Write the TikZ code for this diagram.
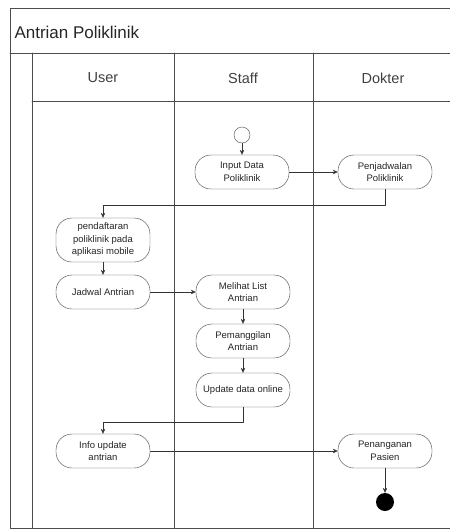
\documentclass[tikz,border=0pt]{standalone}
\usepackage{fontspec}
\setmainfont{Liberation Sans}
\usetikzlibrary{arrows.meta}

\begin{document}
\begin{tikzpicture}[x=1pt,y=-1pt,>={Stealth[length=5pt,width=4.5pt]}, line join=round, line cap=round,
        act/.style={draw=black!75,fill=white,text=black!85,rounded corners=16pt,minimum width=94pt,minimum height=34pt,align=center,inner sep=1pt,font=\fontsize{9.5}{12.5}\selectfont},
        flow/.style={->,draw=black!80},
        frame/.style={draw=black!70,line width=0.8pt},
        lane/.style={text=black!75,font=\fontsize{14.5}{18}\selectfont}]
        \def\xl{10} \def\xr{450} \def\yt{8} \def\yb{528}
        \useasboundingbox (0,0) rectangle (450,531);
        % swimlanes
        \draw[frame] (\xr,\yt) -- (\xl,\yt) -- (\xl,\yb) -- (\xr,\yb);
        \draw[frame] (\xl,53) -- (\xr,53);
        \draw[frame] (32,53) -- (32,\yb);
        \draw[frame] (32,101) -- (\xr,101);
        \draw[frame] (174,53) -- (174,\yb);
        \draw[frame] (313,53) -- (313,\yb);
        \node[anchor=west,text=black!85,font=\fontsize{17}{20}\selectfont] (title) at (11,32) {Antrian Poliklinik};
        \node[lane] (user) at (103,78) {User};
        \node[lane] (staff) at (243,78) {Staff};
        \node[lane] (dokter) at (383,78) {Dokter};
        % activities
        \node[circle,draw=black!70,fill=white,minimum size=16pt,inner sep=0pt] (start) at (242,135) {};
        \node[act] (inp) at (242,172) {Input Data\\Poliklinik};
        \node[act] (jdw) at (385,172) {Penjadwalan\\Poliklinik};
        \node[act,minimum height=44pt] (daf) at (103,240) {pendaftaran\\poliklinik pada\\aplikasi mobile};
        \node[act] (antri) at (103,292) {Jadwal Antrian};
        \node[act] (list) at (243,292) {Melihat List\\Antrian};
        \node[act] (pgl) at (243,341) {Pemanggilan\\Antrian};
        \node[act] (upd) at (243,390) {Update data online};
        \node[act] (info) at (103,451) {Info update\\antrian};
        \node[act] (pasien) at (385,451) {Penanganan\\Pasien};
        \node[circle,fill=black,minimum size=18pt,inner sep=0pt] (end) at (385,502) {};
        % flows
        \draw[flow] (start) -- (inp);
        \draw[flow] (inp) -- (jdw);
        \draw[flow] (jdw.south) -- ++(0,16) -| (daf.north);
        \draw[flow] (daf) -- (antri);
        \draw[flow] (antri) -- (list);
        \draw[flow] (list) -- (pgl);
        \draw[flow] (pgl) -- (upd);
        \draw[flow] (upd.south) -- ++(0,15) -| (info.north);
        \draw[flow] (info) -- (pasien);
        \draw[flow] (pasien) -- (end);
\end{tikzpicture}
\end{document}
